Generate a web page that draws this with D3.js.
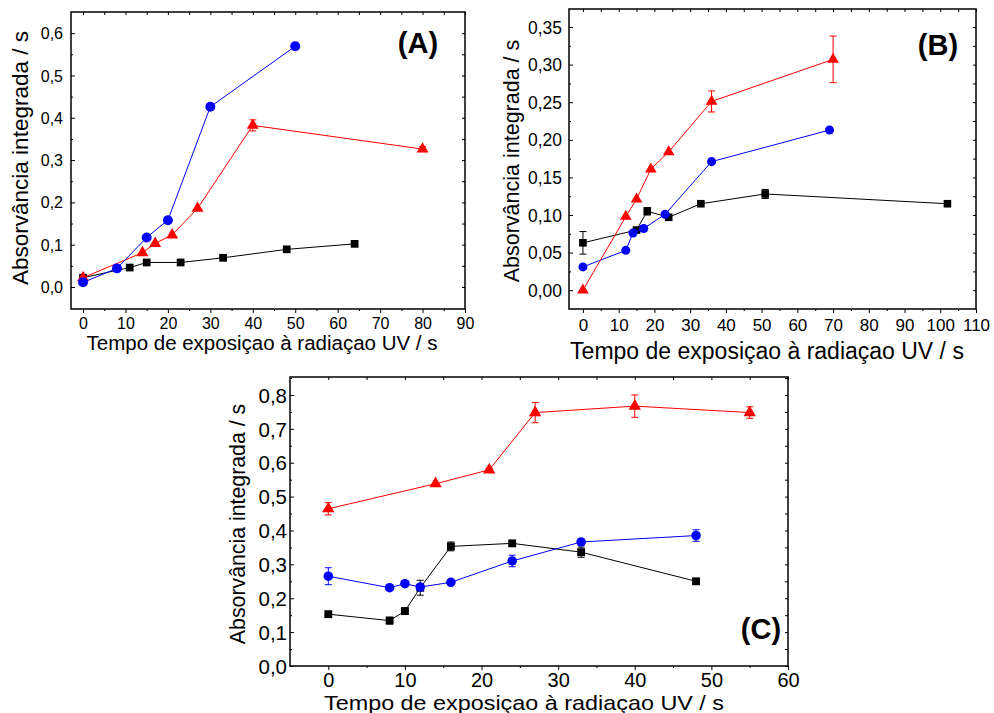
<!DOCTYPE html>
<html>
<head>
<meta charset="utf-8">
<script src="https://cdn.jsdelivr.net/npm/d3@7"></script>
<style>
  html, body { margin: 0; padding: 0; background: #fff; }
  svg { display: block; font-family: "Liberation Sans", Arial, sans-serif; }
</style>
</head>
<body>
<svg id="chart" width="994" height="713"></svg>
<script>
// ---------------- DATA ----------------
// Panel A
const A_black_t = [0, 11, 15, 23, 33, 48, 64];
const A_black_y = [0.022, 0.046, 0.058, 0.058, 0.069, 0.089, 0.102];
const A_black_e = [0, 0, 0, 0, 0, 0, 0];
const A_blue_t = [0, 8, 15, 20, 30, 50];
const A_blue_y = [0.011, 0.044, 0.117, 0.158, 0.426, 0.569];
const A_blue_e = [0, 0, 0, 0, 0.005, 0.008];
const A_red_t = [0, 14, 17, 21, 27, 40, 80];
const A_red_y = [0.022, 0.081, 0.103, 0.123, 0.186, 0.382, 0.326];
const A_red_e = [0, 0, 0, 0, 0, 0.013, 0.006];

// Panel B
const B_black_t = [0, 15, 18, 24, 33, 51, 102];
const B_black_y = [0.063, 0.080, 0.105, 0.097, 0.115, 0.128, 0.115];
const B_black_e = [0.015, 0, 0.005, 0, 0, 0.006, 0];
const B_blue_t = [0, 12, 14, 17, 23, 36, 69];
const B_blue_y = [0.031, 0.053, 0.076, 0.082, 0.101, 0.171, 0.213];
const B_blue_e = [0, 0, 0, 0.004, 0, 0, 0];
const B_red_t = [0, 12, 15, 19, 24, 36, 70];
const B_red_y = [0.000, 0.098, 0.121, 0.161, 0.184, 0.251, 0.307];
const B_red_e = [0, 0, 0, 0, 0, 0.014, 0.031];

// Panel C
const C_black_t = [0, 8, 10, 12, 16, 24, 33, 48];
const C_black_y = [0.153, 0.134, 0.162, 0.231, 0.353, 0.362, 0.336, 0.250];
const C_black_e = [0, 0.01, 0.01, 0.022, 0.013, 0, 0.015, 0.008];
const C_blue_t = [0, 8, 10, 12, 16, 24, 33, 48];
const C_blue_y = [0.265, 0.231, 0.243, 0.233, 0.247, 0.310, 0.366, 0.385];
const C_blue_e = [0.025, 0.005, 0, 0, 0, 0.017, 0, 0.017];
const C_red_t = [0, 14, 21, 27, 40, 55];
const C_red_y = [0.464, 0.538, 0.579, 0.748, 0.767, 0.748];
const C_red_e = [0.018, 0, 0.005, 0.03, 0.033, 0.017];

// Tick values / labels
const A_xTicks = [0, 10, 20, 30, 40, 50, 60, 70, 80, 90];
const A_yTicks = [0, 0.1, 0.2, 0.3, 0.4, 0.5, 0.6];
const B_xTicks = [0, 10, 20, 30, 40, 50, 60, 70, 80, 90, 100, 110];
const B_yTicks = [0, 0.05, 0.10, 0.15, 0.20, 0.25, 0.30, 0.35];
const C_xTicks = [0, 10, 20, 30, 40, 50, 60];
const C_yTicks = [0, 0.1, 0.2, 0.3, 0.4, 0.5, 0.6, 0.7, 0.8];

const xTitle = "Tempo de exposiçao à radiaçao UV / s";
const yTitle = "Absorvância integrada / s";
const panelLabels = ["(A)", "(B)", "(C)"];

// ---------------- DRAWING ----------------
const svg = d3.select("#chart");
const COLORS = { black: "#000000", blue: "#0000ff", red: "#ff0000" };

function zip(t, y, e) { return t.map((v, i) => ({ t: v, y: y[i], e: e[i] })); }

function drawPanel(cfg) {
  const x = d3.scaleLinear().domain(cfg.xDomain).range([cfg.x0, cfg.x1]);
  const y = d3.scaleLinear().domain(cfg.yDomain).range([cfg.y1, cfg.y0]);
  const g = svg.append("g");
  const fmt = v => d3.format(cfg.yFmt)(v).replace(".", ",");

  const xMinor = cfg.xTicks.slice(0, -1).map((v, i) => (v + cfg.xTicks[i + 1]) / 2)
    .filter(v => v > cfg.xDomain[0] && v < cfg.xDomain[1]);
  const yMinor = cfg.yTicks.map(v => v + (cfg.yTicks[1] - cfg.yTicks[0]) / 2)
    .filter(v => v > cfg.yDomain[0] && v < cfg.yDomain[1]);

  const axisStyle = sel => {
    sel.select(".domain").remove();
    sel.selectAll("line").attr("stroke", "#000").attr("stroke-width", 1);
  };

  // bottom axis (ticks outward)
  const gb = g.append("g").attr("transform", `translate(0,${cfg.y1})`)
    .call(d3.axisBottom(x).tickValues(cfg.xTicks).tickSizeInner(4).tickSizeOuter(0).tickFormat(d3.format("d")));
  axisStyle(gb);
  gb.selectAll("text").attr("y", cfg.xLabOff).attr("dy", 0)
    .attr("font-size", cfg.xTickFont).attr("fill", "#000").attr("font-family", "Liberation Sans, Arial, sans-serif");
  const gbm = g.append("g").attr("transform", `translate(0,${cfg.y1})`)
    .call(d3.axisBottom(x).tickValues(xMinor).tickSizeInner(2).tickSizeOuter(0).tickFormat(""));
  axisStyle(gbm);

  // top axis (ticks inward)
  const gt = g.append("g").attr("transform", `translate(0,${cfg.y0})`)
    .call(d3.axisTop(x).tickValues(cfg.xTicks.concat(xMinor)).tickSizeInner(-3).tickSizeOuter(0).tickFormat(""));
  axisStyle(gt);

  // left axis (ticks inward)
  const gl = g.append("g").attr("transform", `translate(${cfg.x0},0)`)
    .call(d3.axisLeft(y).tickValues(cfg.yTicks).tickSizeInner(-4).tickSizeOuter(0).tickFormat(fmt));
  axisStyle(gl);
  gl.selectAll("text").attr("x", -cfg.yLabOff).attr("dy", "0.35em")
    .attr("font-size", cfg.yTickFont).attr("fill", "#000").attr("font-family", "Liberation Sans, Arial, sans-serif");
  const glm = g.append("g").attr("transform", `translate(${cfg.x0},0)`)
    .call(d3.axisLeft(y).tickValues(yMinor).tickSizeInner(-2).tickSizeOuter(0).tickFormat(""));
  axisStyle(glm);

  // right axis (ticks inward)
  const gr = g.append("g").attr("transform", `translate(${cfg.x1},0)`)
    .call(d3.axisRight(y).tickValues(cfg.yTicks.concat(yMinor)).tickSizeInner(-3).tickSizeOuter(0).tickFormat(""));
  axisStyle(gr);

  // frame
  g.append("rect").attr("x", cfg.x0).attr("y", cfg.y0)
    .attr("width", cfg.x1 - cfg.x0).attr("height", cfg.y1 - cfg.y0)
    .attr("fill", "none").attr("stroke", "#000").attr("stroke-width", 1.5);

  // series
  const line = d3.line().x(d => x(d.t)).y(d => y(d.y));
  cfg.series.forEach(s => {
    const data = zip(s.t, s.y, s.e);
    const c = COLORS[s.color];
    g.append("path").datum(data).attr("d", line)
      .attr("fill", "none").attr("stroke", c).attr("stroke-width", 1);
    const eb = g.append("g").attr("stroke", c).attr("stroke-width", 1);
    data.filter(d => d.e > 0).forEach(d => {
      const cx = x(d.t), yt = y(d.y + d.e), yb = y(d.y - d.e);
      eb.append("line").attr("x1", cx).attr("x2", cx).attr("y1", yt).attr("y2", yb);
      eb.append("line").attr("x1", cx - 3.5).attr("x2", cx + 3.5).attr("y1", yt).attr("y2", yt);
      eb.append("line").attr("x1", cx - 3.5).attr("x2", cx + 3.5).attr("y1", yb).attr("y2", yb);
    });
    const sym = s.marker === "square" ? d3.symbolSquare : s.marker === "circle" ? d3.symbolCircle : d3.symbolTriangle;
    const size = s.marker === "square" ? cfg.msq : s.marker === "circle" ? cfg.mci : cfg.mtr;
    g.append("g").selectAll("path").data(data).join("path")
      .attr("d", d3.symbol().type(sym).size(size))
      .attr("transform", d => `translate(${x(d.t)},${y(d.y)})`)
      .attr("fill", c);
  });

  // titles
  const xt = g.append("text").attr("x", cfg.xTitleX).attr("y", cfg.xTitleY)
    .attr("text-anchor", "middle").attr("font-size", cfg.xTitleFont).attr("fill", "#000")
    .text(xTitle);
  if (cfg.xTitleLen) xt.attr("textLength", cfg.xTitleLen).attr("lengthAdjust", "spacingAndGlyphs");
  g.append("text").attr("transform", `translate(${cfg.yTitleX},${cfg.yTitleY}) rotate(-90)`)
    .attr("text-anchor", "middle").attr("font-size", cfg.yTitleFont).attr("fill", "#000")
    .text(yTitle);
  g.append("text").attr("x", cfg.labX).attr("y", cfg.labY)
    .attr("text-anchor", "middle").attr("font-size", 29).attr("font-weight", "bold").attr("fill", "#000")
    .text(cfg.label);
}

drawPanel({
  x0: 71, x1: 465, y0: 12, y1: 309,
  xDomain: [-2.83, 90], yDomain: [-0.052, 0.65],
  xTicks: A_xTicks, yTicks: A_yTicks, yFmt: ".1f",
  xTickFont: 16, yTickFont: 16, xLabOff: 20, yLabOff: 8,
  xTitleX: 262, xTitleY: 350, xTitleFont: 20.5,
  yTitleX: 28, yTitleY: 158, yTitleFont: 22.5,
  label: panelLabels[0], labX: 418, labY: 53,
  msq: 60, mci: 78, mtr: 62,
  series: [
    { t: A_black_t, y: A_black_y, e: A_black_e, color: "black", marker: "square" },
    { t: A_red_t, y: A_red_y, e: A_red_e, color: "red", marker: "triangle" },
    { t: A_blue_t, y: A_blue_y, e: A_blue_e, color: "blue", marker: "circle" }
  ]
});

drawPanel({
  x0: 569, x1: 976, y0: 9, y1: 309,
  xDomain: [-3.9, 110], yDomain: [-0.025, 0.374],
  xTicks: B_xTicks, yTicks: B_yTicks, yFmt: ".2f",
  xTickFont: 17, yTickFont: 17.5, xLabOff: 22, yLabOff: 7,
  xTitleX: 767, xTitleY: 359, xTitleFont: 23,
  yTitleX: 519, yTitleY: 161, yTitleFont: 21.5,
  label: panelLabels[1], labX: 938, labY: 55,
  msq: 58, mci: 64, mtr: 58,
  series: [
    { t: B_black_t, y: B_black_y, e: B_black_e, color: "black", marker: "square" },
    { t: B_blue_t, y: B_blue_y, e: B_blue_e, color: "blue", marker: "circle" },
    { t: B_red_t, y: B_red_y, e: B_red_e, color: "red", marker: "triangle" }
  ]
});

drawPanel({
  x0: 290, x1: 788, y0: 377, y1: 666,
  xDomain: [-5, 60], yDomain: [0, 0.853],
  xTicks: C_xTicks, yTicks: C_yTicks, yFmt: ".1f",
  xTickFont: 20, yTickFont: 20.5, xLabOff: 21, yLabOff: 3,
  xTitleX: 524, xTitleY: 710, xTitleFont: 21, xTitleLen: 400,
  yTitleX: 245, yTitleY: 524, yTitleFont: 21.3,
  label: panelLabels[2], labX: 761, labY: 639,
  msq: 62, mci: 72, mtr: 66,
  series: [
    { t: C_black_t, y: C_black_y, e: C_black_e, color: "black", marker: "square" },
    { t: C_blue_t, y: C_blue_y, e: C_blue_e, color: "blue", marker: "circle" },
    { t: C_red_t, y: C_red_y, e: C_red_e, color: "red", marker: "triangle" }
  ]
});
</script>
</body>
</html>
